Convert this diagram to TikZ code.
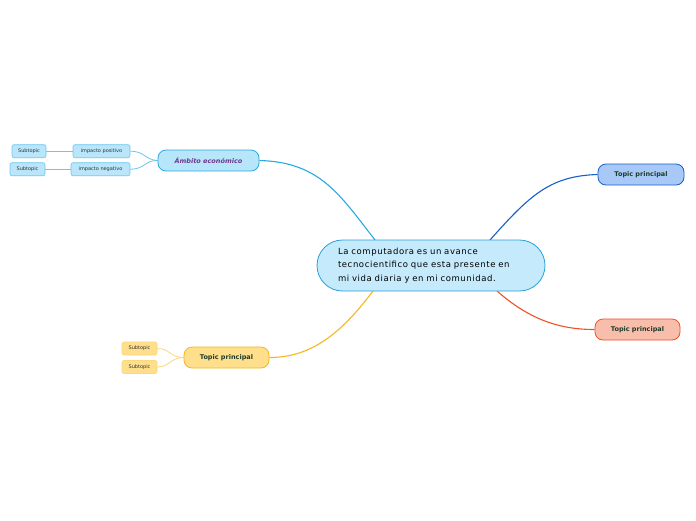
\documentclass[tikz,border=0pt]{standalone}
\usepackage{fontspec}
\setmainfont{DejaVu Sans}
\newfontfamily\mainfnt[LetterSpace=7]{DejaVu Sans}
\usetikzlibrary{shapes.misc}
\pgfdeclarelayer{background}
\pgfsetlayers{background,main}
\definecolor{cfill}{HTML}{C5EAFB}
\definecolor{cline}{HTML}{2A9FDA}
\definecolor{afill}{HTML}{B7E5FA}
\definecolor{aline}{HTML}{2BAAE2}
\definecolor{sfill}{HTML}{B9E6FB}
\definecolor{sline}{HTML}{6CC7EE}
\definecolor{bfill}{HTML}{A8C9F7}
\definecolor{bline}{HTML}{1760C8}
\definecolor{ofill}{HTML}{F9BEAB}
\definecolor{oline}{HTML}{EA5427}
\definecolor{yfill}{HTML}{FFDE8C}
\definecolor{yline}{HTML}{F6B81C}
\definecolor{ysline}{HTML}{FCD77E}
\definecolor{tgreen}{HTML}{1E3A28}
\definecolor{purp}{HTML}{6A3B8E}
\tikzset{
  mainbox/.style={rounded rectangle, draw=cline, fill=cfill, line width=0.8pt, minimum width=228pt, minimum height=51pt, inner sep=0pt, text width=186pt, align=left, font=\mainfnt\fontsize{8.5}{13.5}\selectfont},
  topicbox/.style={rounded corners=8pt, line width=0.8pt, minimum height=21pt, inner sep=0pt, font=\fontsize{6.5}{8}\selectfont\bfseries, text=tgreen},
  subbox/.style={rounded corners=2pt, line width=0.6pt, minimum height=13pt, inner sep=0pt, font=\fontsize{5}{6}\selectfont, text=black!80},
  conn/.style={line width=1.1pt},
  thin conn/.style={line width=0.8pt}
}
\begin{document}
\begin{tikzpicture}[x=1pt,y=-1pt]
\useasboundingbox (0,0) rectangle (696,520);
\node[mainbox] (main) at (431,265.5) {La computadora es un avance\\tecnocientifico que esta presente en\\mi vida diaria y en mi comunidad.};
\node[draw=aline, fill=afill, rounded corners=8pt, line width=0.8pt, minimum width=101pt, minimum height=21pt, inner sep=0pt, font=\fontsize{6.5}{8}\selectfont\bfseries\itshape, text=purp] (amb) at (208.5,160.5) {Ámbito económico};
\node[topicbox, draw=bline, fill=bfill, minimum width=86pt] (tp1) at (641,174.5) {Topic principal};
\node[topicbox, draw=oline, fill=ofill, minimum width=85pt] (tp2) at (637.5,329.5) {Topic principal};
\node[topicbox, draw=yline, fill=yfill, minimum width=85pt] (tp3) at (226.5,357.5) {Topic principal};
\node[subbox, draw=sline, fill=sfill, minimum width=57pt] (ip) at (101.5,151.2) {impacto positivo};
\node[subbox, draw=sline, fill=sfill, minimum width=59pt] (in) at (100.5,169.2) {impacto negativo};
\node[subbox, draw=sline, fill=sfill, minimum width=34pt] (s1) at (29,151.2) {Subtopic};
\node[subbox, draw=sline, fill=sfill, minimum width=35pt] (s2) at (27.5,169.2) {Subtopic};
\node[subbox, draw=ysline, fill=yfill, minimum width=35pt] (y1) at (139.5,348.5) {Subtopic};
\node[subbox, draw=ysline, fill=yfill, minimum width=35pt] (y2) at (139.5,367) {Subtopic};
\begin{pgfonlayer}{background}
\fill[white] (0,0) rectangle (696,520);
\coordinate (c1) at (375,240);
\coordinate (c2) at (490,240);
\coordinate (c3) at (497,291);
\coordinate (c4) at (373,291);
\draw[conn, draw=aline] (c1) .. controls (340,195) and (320,162) .. (amb.east);
\draw[conn, draw=bline] (c2) .. controls (530,195) and (550,176) .. (tp1.west);
\draw[conn, draw=oline] (c3) .. controls (530,320) and (560,329.5) .. (tp2.west);
\draw[conn, draw=yline] (c4) .. controls (340,335) and (310,357.5) .. (tp3.east);
\draw[thin conn, draw=sline] (amb.west) .. controls (145,160) and (145,151.2) .. (ip.east);
\draw[thin conn, draw=sline] (amb.west) .. controls (145,160) and (145,169.2) .. (in.east);
\draw[thin conn, draw=sline] (ip.west) -- (s1.east);
\draw[thin conn, draw=sline] (in.west) -- (s2.east);
\draw[thin conn, draw=ysline] (tp3.west) .. controls (170,357.5) and (170,348.5) .. (y1.east);
\draw[thin conn, draw=ysline] (tp3.west) .. controls (170,357.5) and (170,367) .. (y2.east);
\end{pgfonlayer}
\end{tikzpicture}
\end{document}
